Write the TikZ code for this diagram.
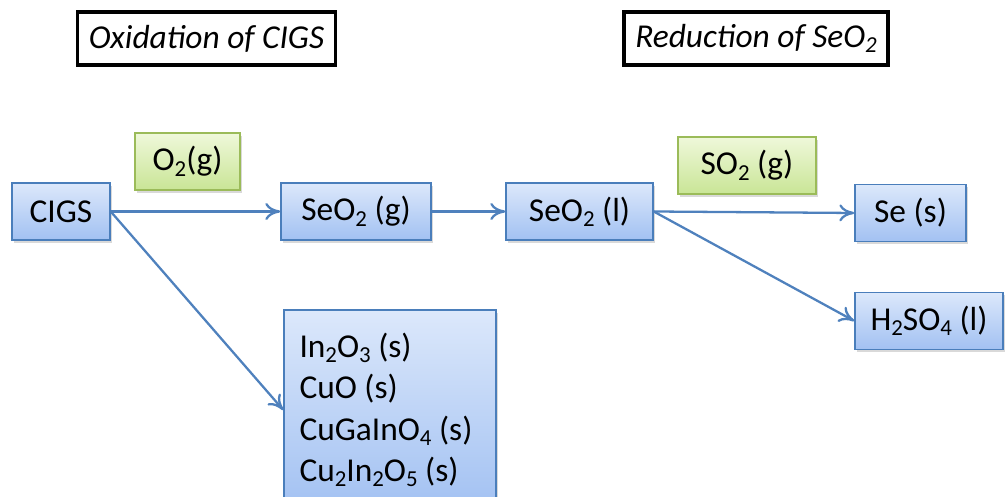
\documentclass[tikz,border=0pt]{standalone}
\usepackage{fontspec}
\setmainfont{Carlito}
\usetikzlibrary{arrows.meta,shadows}
\definecolor{boxline}{HTML}{4A7EBB}
\definecolor{boxtop}{HTML}{DCE8FB}
\definecolor{boxbot}{HTML}{A2C1F2}
\definecolor{gasline}{HTML}{9BBB59}
\definecolor{gastop}{HTML}{EFF8DA}
\definecolor{gasbot}{HTML}{C9E596}
\definecolor{flow}{HTML}{4F81BD}
\tikzset{
  species/.style={draw=boxline, line width=0.8pt, top color=boxtop, bottom color=boxbot,
    minimum height=1.14cm, inner sep=4pt,
    drop shadow={shadow xshift=1pt, shadow yshift=-1.5pt, opacity=0.3}},
  reagent/.style={species, draw=gasline, top color=gastop, bottom color=gasbot},
  title/.style={draw, line width=2pt, minimum height=1.06cm, font=\itshape},
  flowarrow/.style={draw=flow, line width=1.3pt, -{To[length=0.3cm,width=0.34cm]}}
}
% subscripts set lower and a bit smaller than \textsubscript
\newcommand{\low}[1]{\raisebox{-3pt}{\fontsize{13}{13}\selectfont #1}}
\begin{document}
\fontsize{19}{23.6}\selectfont
\begin{tikzpicture}
\useasboundingbox (0,0) rectangle (20.1,9.94);
\node[title, minimum width=4.94cm] (tox) at (4.13,9.17) {Oxidation of CIGS};
\node[title, minimum width=5.2cm] (tred) at (15.12,9.17) {Reduction of SeO\low{2}};
\node[reagent, minimum width=2.1cm] (o2) at (3.75,6.71) {O\low{2}(g)};
\node[reagent, minimum width=2.76cm] (so2) at (14.94,6.63) {SO\low{2} (g)};
\node[species, minimum width=1.96cm] (cigs) at (1.22,5.71) {CIGS};
\node[species, minimum width=3.0cm] (seo2g) at (7.12,5.71) {SeO\low{2} (g)};
\node[species, minimum width=2.94cm] (seo2l) at (11.59,5.71) {SeO\low{2} (l)};
\node[species, minimum width=2.22cm] (se) at (18.21,5.68) {Se (s)};
\node[species, minimum width=2.96cm] (h2so4) at (18.58,3.52) {H\low{2}SO\low{4} (l)};
\node[species, minimum width=4.24cm, minimum height=4cm, align=flush left, text width=3.62cm] (oxides) at (7.8,1.74)
  {In\low{2}O\low{3} (s)\\CuO (s)\\CuGaInO\low{4} (s)\\Cu\low{2}In\low{2}O\low{5} (s)};
\draw[flowarrow] (cigs.east) -- (seo2g.west);
\draw[flowarrow] (cigs.east) -- (oxides.west);
\draw[flowarrow] (seo2g.east) -- (seo2l.west);
\draw[flowarrow] (seo2l.east) -- (se.west);
\draw[flowarrow] (seo2l.east) -- (h2so4.west);
\end{tikzpicture}
\end{document}
